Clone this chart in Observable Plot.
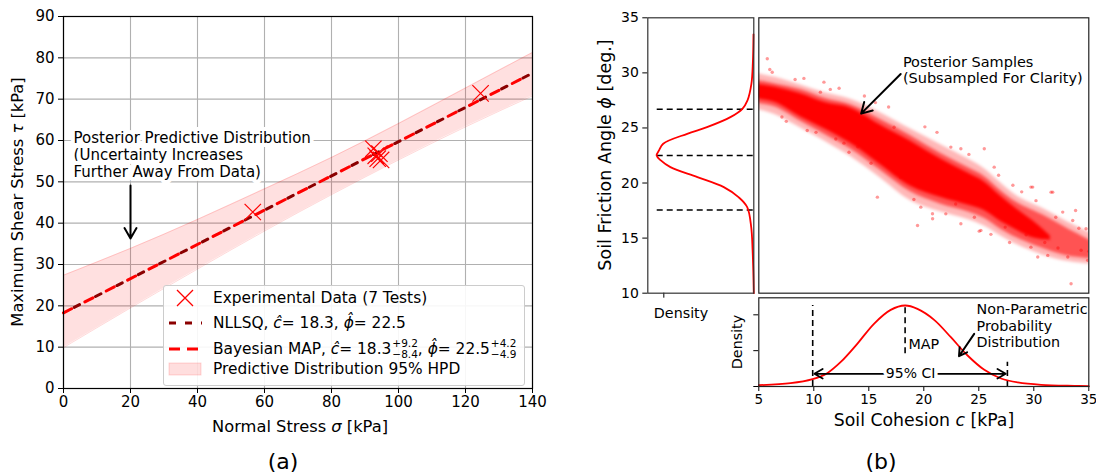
<!DOCTYPE html>
<html><head><meta charset="utf-8">
<script src="https://cdn.jsdelivr.net/npm/d3@7"></script>
<script src="https://cdn.jsdelivr.net/npm/@observablehq/plot@0.6"></script>
<style>
body{margin:0;background:#fff;font-family:"DejaVu Sans",sans-serif;}
#fig{position:relative;width:1096px;height:475px;overflow:hidden;background:#fff;}
#fig svg{position:absolute;}
.lbl{position:absolute;white-space:nowrap;color:#000;transform:translate(-50%,-50%);line-height:1;}
.rot{transform:translate(-50%,-50%) rotate(-90deg);}
#legA{position:absolute;left:163px;top:285px;width:362px;height:101px;border:1px solid #cccccc;border-radius:3px;background:rgba(255,255,255,0.9);box-sizing:border-box;font-size:15.4px;}
#legA .row{position:absolute;left:0;height:24px;display:flex;align-items:center;transform:translateY(-50%);white-space:nowrap;}
#legA .row svg{position:static;margin-left:4px;margin-right:11px;}
.pm{display:inline-flex;flex-direction:column;font-size:10.5px;line-height:11px;vertical-align:middle;margin-left:1px;}
.cloud g[aria-label="area"]{filter:blur(1.6px);}
.cloud g[aria-label="area"].core{filter:blur(0.8px);}
</style></head><body><div id="fig"></div>
<script>
// ---------- Panel (a) data ----------
const expSigma = [56.5, 92.5, 93.2, 93.8, 94.3, 94.8, 124.5];
const expTau   = [42.7, 58.0, 56.3, 55.6, 56.8, 55.3, 71.4];
const fitSigma = [0, 140];
const fitTau   = [18.3, 76.3];
const bandSigma = [0, 20, 40, 60, 80, 100, 120, 140];
const bandLower = [9.9, 19.5, 28.9, 38.1, 46.9, 55.3, 63.3, 70.8];
const bandUpper = [27.4, 33.9, 40.9, 48.3, 55.9, 64.1, 72.7, 81.3];
const xTicksA = [0, 20, 40, 60, 80, 100, 120, 140];
const yTicksA = [0, 10, 20, 30, 40, 50, 60, 70, 80, 90];
const annAText = "Posterior Predictive Distribution\n(Uncertainty Increases\nFurther Away From Data)";
const annAPos = [3, 62.3];
const annAArrow = [20, 49.1, 20, 36.3];

// ---------- Panel (b) data ----------
const phiTicks = [10, 15, 20, 25, 30, 35];
const cTicks = [5, 10, 15, 20, 25, 30, 35];
const phiGrid = [10, 12, 13.9, 16.0, 17.81, 18.72, 19.63, 20.54, 21.44, 22.05, 22.5, 22.96, 23.57, 24.47, 25.07, 25.98, 26.74, 27.5, 29, 31, 33.5];
const phiDens = [0, 0.0008, 0.002, 0.0043, 0.011, 0.0255, 0.050, 0.094, 0.139, 0.155, 0.162, 0.158, 0.151, 0.111, 0.078, 0.039, 0.019, 0.0105, 0.004, 0.0015, 0.0005];
const phiLines = [17.55, 22.5, 26.7];
const phiLineStart = 0.161;
const cGrid = [5, 7.89, 9.89, 11.22, 12.43, 13.95, 15.47, 16.99, 18.3, 19.42, 20.94, 22.46, 23.98, 25.5, 27.02, 28.54, 30.67, 33.7, 35];
const cDens = [0.0015, 0.0037, 0.0082, 0.0149, 0.0271, 0.0476, 0.070, 0.0855, 0.0904, 0.0866, 0.0744, 0.055, 0.0346, 0.0186, 0.0089, 0.0045, 0.0019, 0.0008, 0.0005];
const ciC  = [9.9, 18.3, 27.6];
const ciLo = [0, 0.0365, 0];
const ciHi = [0.0904, 0.0904, 0.027];
const cDensTicks = [0, 0.04, 0.08];
// posterior sample cloud (envelopes)
const cloudC     = [4.5, 6.5, 8.8, 11, 13.35, 16, 18.8, 21.5, 24, 25.5, 27, 28.5, 31, 33, 35.5];
const outerLo    = [26.8, 26.2, 25.0, 23.8, 22.4, 20.5, 18.4, 17.4, 16.7, 16.1, 15.2, 14.4, 13.4, 12.9, 12.6];
const outerHi    = [30.0, 29.6, 28.9, 28.2, 27.6, 26.4, 24.9, 23.5, 22.2, 21.3, 20.0, 18.8, 17.6, 16.5, 15.3];
const midLo      = [27.3, 26.9, 25.6, 24.4, 23.1, 21.2, 19.2, 18.1, 17.4, 16.8, 15.8, 15.0, 14.0, 13.4, 13.1];
const midHi      = [29.4, 29.0, 28.5, 27.7, 27.1, 25.8, 24.3, 22.7, 21.4, 20.6, 19.3, 18.2, 17.0, 15.9, 14.6];
const coreC      = [4.5, 6.5, 8.8, 11, 13.35, 16, 18.8, 21.5, 24, 25.5, 27, 28.5, 30, 31.5];
const coreLo     = [27.7, 27.3, 26.0, 24.9, 23.6, 21.7, 19.7, 18.7, 18.0, 17.5, 16.5, 15.7, 15.0, 14.8];
const coreHi     = [29.0, 28.7, 28.1, 27.3, 26.8, 25.3, 23.8, 22.2, 20.9, 20.1, 18.8, 17.6, 16.5, 15.2];
const sampleC   = [5.77, 6.22, 10.92, 10.6, 15.78, 23.37, 26.4, 29.74, 31.72, 33.39, 34.75, 20.79, 19.73, 25.19, 30.36, 13.2, 9.4, 17.3, 22.46, 19.1, 19.43, 20.8, 23.37, 25.04, 26.1, 29.9, 31.57, 31.27, 33.09, 29.74, 25.5, 32.63, 33.54, 12.74, 34.9, 7.5, 8.3, 12.0, 14.6, 16.8, 21.2, 24.6, 27.8, 28.9, 32.2, 33.8, 34.3, 11.5, 15.2, 22.0, 6.0, 7.1, 9.1, 10.2, 12.3, 14.0, 15.6, 17.9, 20.1, 22.9, 24.1, 26.8, 27.4, 28.1, 29.3, 30.2, 31.0, 32.0, 34.1, 35.0];
const samplePhi = [31.28, 30.06, 29.16, 28.25, 18.72, 23.11, 21.44, 19.63, 19.17, 10.86, 15.85, 17.21, 17.81, 15.7, 13.28, 22.8, 24.77, 25.07, 23.26, 18.5, 16.15, 16.76, 16.3, 15.63, 15.34, 19.63, 19.17, 13.43, 13.28, 14.18, 23.11, 17.36, 16.6, 23.62, 12.98, 25.6, 29.4, 24.0, 27.9, 26.9, 24.6, 16.9, 14.6, 19.2, 14.1, 17.5, 13.9, 28.5, 21.8, 17.2, 30.3, 26.0, 29.5, 24.6, 28.6, 23.3, 27.3, 20.5, 25.1, 18.1, 22.6, 20.7, 16.0, 19.8, 15.3, 18.4, 14.6, 16.9, 15.9, 13.8];
const annBText = "Posterior Samples\n(Subsampled For Clarity)";
const annBPos = [18.1, 31.65];
const annBArrow = [17.9, 29.9, 14.3, 26.3];
const annCText = "Non-Parametric\nProbability\nDistribution";
const annCPos = [24.8, 0.0935];
const annCArrow = [24.58, 0.0588, 23.2, 0.0338];
const mapText = "MAP";
const mapPos = [18.6, 0.0469];
const ciText = "95% CI";
const ciPos = [18.8, 0.0142];
const ciEnds = [10.05, 27.45];

const FONT = "DejaVu Sans";
const fig = document.getElementById("fig");
function baseStyle(fs){ return {fontFamily: FONT, fontSize: fs + "px", color: "black", background: "transparent", overflow: "visible"}; }
function place(el, left, top){ el.style.left = left + "px"; el.style.top = top + "px"; fig.appendChild(el); }
function label(html, x, y, size, rot){ const d = document.createElement("div"); d.className = "lbl" + (rot ? " rot" : ""); d.style.left = x + "px"; d.style.top = y + "px"; d.style.fontSize = size + "px"; d.innerHTML = html; fig.appendChild(d); }

// ---------- Panel (a) ----------
const bandRows = bandSigma.map((s, i) => ({s, lo: bandLower[i], hi: bandUpper[i]}));
const expRows = expSigma.map((s, i) => ({s, t: expTau[i]}));
const fitRows = fitSigma.map((s, i) => ({s, t: fitTau[i]}));
const plotA = Plot.plot({
  width: 545, height: 445, marginLeft: 63, marginRight: 13, marginTop: 16, marginBottom: 57,
  style: baseStyle(15),
  x: {domain: [0, 140]}, y: {domain: [0, 90]},
  marks: [
    Plot.gridX(xTicksA, {stroke: "#b0b0b0", strokeOpacity: 1, strokeWidth: 1.1}),
    Plot.gridY(yTicksA, {stroke: "#b0b0b0", strokeOpacity: 1, strokeWidth: 1.1}),
    Plot.areaY(bandRows, {x: "s", y1: "lo", y2: "hi", fill: "red", fillOpacity: 0.12, curve: "natural"}),
    Plot.line(bandRows, {x: "s", y: "lo", stroke: "red", strokeOpacity: 0.15, strokeWidth: 1, curve: "natural"}),
    Plot.line(bandRows, {x: "s", y: "hi", stroke: "red", strokeOpacity: 0.15, strokeWidth: 1, curve: "natural"}),
    Plot.line(fitRows, {x: "s", y: "t", stroke: "#8b0000", strokeWidth: 3, strokeDasharray: "6,18", strokeDashoffset: -12}),
    Plot.line(fitRows, {x: "s", y: "t", stroke: "red", strokeWidth: 3, strokeDasharray: "9,15"}),
    Plot.dot(expRows, {x: "s", y: "t", symbol: "times", r: 7.5, stroke: "red", strokeWidth: 1.2}),
    Plot.text([annAText], {x: annAPos[0], y: annAPos[1], text: d => d, textAnchor: "start", lineAnchor: "top", fontSize: 15, lineHeight: 1.13, fill: "black", stroke: "white", strokeWidth: 8, paintOrder: "stroke"}),
    Plot.arrow([annAArrow], {x1: d => d[0], y1: d => d[1], x2: d => d[2], y2: d => d[3], stroke: "black", strokeWidth: 2, headLength: 9}),
    Plot.axisX({ticks: xTicksA, tickSize: 5, tickPadding: 3, fontSize: 15, label: null}),
    Plot.axisY({ticks: yTicksA, tickSize: 5, tickPadding: 4, fontSize: 15, label: null}),
    Plot.frame({stroke: "black", strokeWidth: 1.2})
  ]
});
place(plotA, 0, 0);

// legend for (a)
const leg = document.createElement("div");
leg.id = "legA";
leg.innerHTML = `
<div class="row" style="top:12px"><svg width="34" height="20"><path d="M9,2 L25,18 M25,2 L9,18" stroke="red" stroke-width="1.3" fill="none"/></svg><span>Experimental Data (7 Tests)</span></div>
<div class="row" style="top:37px"><svg width="34" height="20"><line x1="1" y1="10" x2="34" y2="10" stroke="#8b0000" stroke-width="3" stroke-dasharray="7,9"/></svg><span>NLLSQ, <i>c&#770;</i>= 18.3, <i>&#981;&#770;</i>= 22.5</span></div>
<div class="row" style="top:62.5px"><svg width="34" height="20"><line x1="1" y1="10" x2="34" y2="10" stroke="red" stroke-width="3" stroke-dasharray="11,7"/></svg><span>Bayesian MAP, <i>c&#770;</i>= 18.3<span class="pm"><span>+9.2</span><span>&minus;8.4</span></span>, <i>&#981;&#770;</i>= 22.5<span class="pm"><span>+4.2</span><span>&minus;4.9</span></span></span></div>
<div class="row" style="top:83px"><svg width="34" height="20"><rect x="1" y="4" width="32" height="12" fill="red" fill-opacity="0.13" stroke="red" stroke-opacity="0.15"/></svg><span>Predictive Distribution 95% HPD</span></div>`;
fig.appendChild(leg);

label("Maximum Shear Stress <i>τ</i> [kPa]", 18, 202, 16.3, true);
label("Normal Stress <i>σ</i> [kPa]", 300, 427, 16.3, false);
label("(a)", 283, 462, 22, false);

// ---------- Panel (b): phi marginal ----------
const phiRows = phiGrid.map((p, i) => ({p, d: phiDens[i]}));
const plotB1 = Plot.plot({
  width: 164.3, height: 300, marginLeft: 57.3, marginRight: 1, marginTop: 17.3, marginBottom: 7.3,
  style: baseStyle(14),
  x: {domain: [0, 0.1767], reverse: true}, y: {domain: [10, 35]},
  marks: [
    Plot.ruleY(phiLines, {y: d => d, x1: phiLineStart, x2: 0, stroke: "black", strokeWidth: 1.6, strokeDasharray: "6,4"}),
    Plot.line(phiRows, {x: "d", y: "p", stroke: "red", strokeWidth: 1.8, curve: "catmull-rom"}),
    Plot.axisX({ticks: [0.15], tickSize: 5, tickFormat: () => "", label: null}),
    Plot.axisY({ticks: phiTicks, tickSize: 5, tickPadding: 4, fontSize: 14, label: null}),
    Plot.frame({stroke: "#333", strokeWidth: 1.2})
  ]
});
place(plotB1, 590, 0);

// ---------- Panel (b): joint samples ----------
const outerRows = cloudC.map((c, i) => ({c, lo: outerLo[i], hi: outerHi[i]}));
const midRows = cloudC.map((c, i) => ({c, lo: midLo[i], hi: midHi[i]}));
const coreRows = coreC.map((c, i) => ({c, lo: coreLo[i], hi: coreHi[i]}));
const sampleRows = sampleC.map((c, i) => ({c, p: samplePhi[i]}));
const plotB2 = Plot.plot({
  width: 336.3, height: 296, marginLeft: 3.3, marginRight: 3, marginTop: 17.3, marginBottom: 3.3,
  style: baseStyle(14),
  x: {domain: [5, 35], axis: null}, y: {domain: [10, 35], axis: null},
  marks: [
    Plot.areaY(outerRows, {x: "c", y1: "lo", y2: "hi", fill: "red", fillOpacity: 0.28, curve: "catmull-rom", clip: true}),
    Plot.areaY(midRows, {x: "c", y1: "lo", y2: "hi", fill: "red", fillOpacity: 0.55, curve: "catmull-rom", clip: true}),
    Plot.areaY(coreRows, {x: "c", y1: "lo", y2: "hi", fill: "red", fillOpacity: 1, curve: "catmull-rom", clip: true, className: "core"}),
    Plot.dot(sampleRows, {x: "c", y: "p", r: 1.7, fill: "red", fillOpacity: 0.4, clip: true}),
    Plot.text([annBText], {x: annBPos[0], y: annBPos[1], text: d => d, textAnchor: "start", lineAnchor: "top", fontSize: 14.5, lineHeight: 1.15, fill: "black"}),
    Plot.arrow([annBArrow], {x1: d => d[0], y1: d => d[1], x2: d => d[2], y2: d => d[3], stroke: "black", strokeWidth: 2, headLength: 9}),
    Plot.frame({stroke: "#222", strokeWidth: 1.2})
  ]
});
plotB2.classList.add("cloud");
place(plotB2, 755, 0);

// ---------- Panel (b): c marginal ----------
const cRows = cGrid.map((c, i) => ({c, d: cDens[i]}));
const ciRows = ciC.map((c, i) => ({c, lo: ciLo[i], hi: ciHi[i]}));
const plotB3 = Plot.plot({
  width: 396, height: 125, marginLeft: 58.3, marginRight: 7.7, marginTop: 7.3, marginBottom: 29,
  style: baseStyle(14),
  x: {domain: [5, 35]}, y: {domain: [0, 0.099]},
  marks: [
    Plot.ruleX(ciRows, {x: "c", y1: "lo", y2: "hi", stroke: "black", strokeWidth: 1.6, strokeDasharray: "6,4"}),
    Plot.line(cRows, {x: "c", y: "d", stroke: "red", strokeWidth: 1.8, curve: "catmull-rom"}),
    Plot.arrow(ciEnds, {x1: ciPos[0], y1: ciPos[1], x2: d => d, y2: ciPos[1], stroke: "black", strokeWidth: 1.8, headLength: 8}),
    Plot.text([ciText], {x: ciPos[0], y: ciPos[1], text: d => d, fontSize: 14, fill: "black", stroke: "white", strokeWidth: 7, paintOrder: "stroke"}),
    Plot.text([mapText], {x: mapPos[0], y: mapPos[1], text: d => d, textAnchor: "start", fontSize: 14.3, fill: "black"}),
    Plot.text([annCText], {x: annCPos[0], y: annCPos[1], text: d => d, textAnchor: "start", lineAnchor: "top", fontSize: 14.3, lineHeight: 1.14, fill: "black"}),
    Plot.arrow([annCArrow], {x1: d => d[0], y1: d => d[1], x2: d => d[2], y2: d => d[3], stroke: "black", strokeWidth: 2, headLength: 8}),
    Plot.axisX({ticks: cTicks, tickSize: 5, tickPadding: 3, fontSize: 13.5, label: null}),
    Plot.axisY({ticks: cDensTicks, tickSize: 5, tickFormat: () => "", label: null}),
    Plot.frame({stroke: "#222", strokeWidth: 1.2})
  ]
});
place(plotB3, 700, 290);

label("Soil Friction Angle <i>&#981;</i> [deg.]", 606, 155, 17.5, true);
label("Density", 681, 313, 14.3, false);
label("Density", 737, 342, 14.3, true);
label("Soil Cohesion <i>c</i> [kPa]", 924, 421, 17.3, false);
label("(b)", 881, 462, 22, false);
</script></body></html>
